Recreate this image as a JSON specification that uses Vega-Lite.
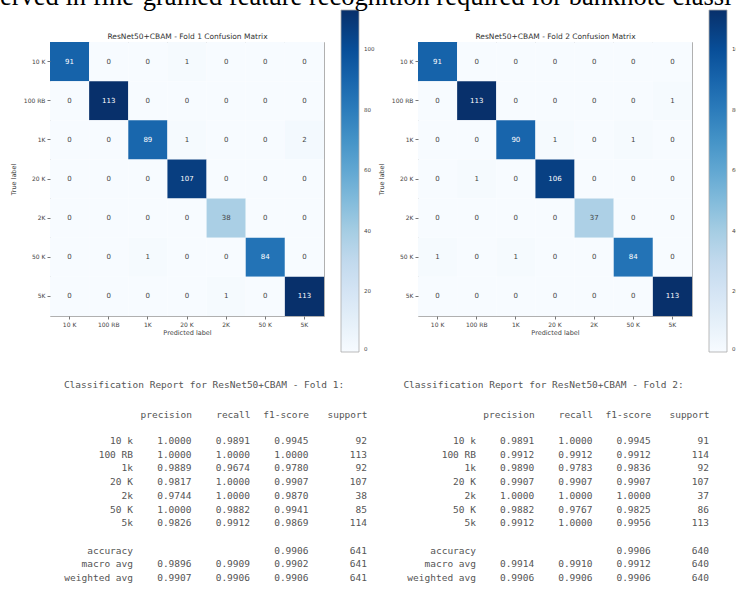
{
  "$schema": "https://vega.github.io/schema/vega-lite/v6.json",
  "autosize": {"type": "pad"},
  "padding": {"left": 0, "top": -16, "right": 0, "bottom": 0},
  "title": {"text": "erved in fine-grained feature recognition required for banknote classi", "font": "Liberation Serif", "fontSize": 26.5, "fontWeight": "normal", "color": "#000000", "anchor": "start", "frame": "group", "dx": -50, "offset": -22, "baseline": "alphabetic"},
  "datasets": {
    "cm1": [
      {"actual": "10 K", "predicted": "10 K", "count": 91}, {"actual": "10 K", "predicted": "100 RB", "count": 0}, {"actual": "10 K", "predicted": "1K", "count": 0}, {"actual": "10 K", "predicted": "20 K", "count": 1}, {"actual": "10 K", "predicted": "2K", "count": 0}, {"actual": "10 K", "predicted": "50 K", "count": 0}, {"actual": "10 K", "predicted": "5K", "count": 0},
      {"actual": "100 RB", "predicted": "10 K", "count": 0}, {"actual": "100 RB", "predicted": "100 RB", "count": 113}, {"actual": "100 RB", "predicted": "1K", "count": 0}, {"actual": "100 RB", "predicted": "20 K", "count": 0}, {"actual": "100 RB", "predicted": "2K", "count": 0}, {"actual": "100 RB", "predicted": "50 K", "count": 0}, {"actual": "100 RB", "predicted": "5K", "count": 0},
      {"actual": "1K", "predicted": "10 K", "count": 0}, {"actual": "1K", "predicted": "100 RB", "count": 0}, {"actual": "1K", "predicted": "1K", "count": 89}, {"actual": "1K", "predicted": "20 K", "count": 1}, {"actual": "1K", "predicted": "2K", "count": 0}, {"actual": "1K", "predicted": "50 K", "count": 0}, {"actual": "1K", "predicted": "5K", "count": 2},
      {"actual": "20 K", "predicted": "10 K", "count": 0}, {"actual": "20 K", "predicted": "100 RB", "count": 0}, {"actual": "20 K", "predicted": "1K", "count": 0}, {"actual": "20 K", "predicted": "20 K", "count": 107}, {"actual": "20 K", "predicted": "2K", "count": 0}, {"actual": "20 K", "predicted": "50 K", "count": 0}, {"actual": "20 K", "predicted": "5K", "count": 0},
      {"actual": "2K", "predicted": "10 K", "count": 0}, {"actual": "2K", "predicted": "100 RB", "count": 0}, {"actual": "2K", "predicted": "1K", "count": 0}, {"actual": "2K", "predicted": "20 K", "count": 0}, {"actual": "2K", "predicted": "2K", "count": 38}, {"actual": "2K", "predicted": "50 K", "count": 0}, {"actual": "2K", "predicted": "5K", "count": 0},
      {"actual": "50 K", "predicted": "10 K", "count": 0}, {"actual": "50 K", "predicted": "100 RB", "count": 0}, {"actual": "50 K", "predicted": "1K", "count": 1}, {"actual": "50 K", "predicted": "20 K", "count": 0}, {"actual": "50 K", "predicted": "2K", "count": 0}, {"actual": "50 K", "predicted": "50 K", "count": 84}, {"actual": "50 K", "predicted": "5K", "count": 0},
      {"actual": "5K", "predicted": "10 K", "count": 0}, {"actual": "5K", "predicted": "100 RB", "count": 0}, {"actual": "5K", "predicted": "1K", "count": 0}, {"actual": "5K", "predicted": "20 K", "count": 0}, {"actual": "5K", "predicted": "2K", "count": 1}, {"actual": "5K", "predicted": "50 K", "count": 0}, {"actual": "5K", "predicted": "5K", "count": 113}
    ],
    "cm2": [
      {"actual": "10 K", "predicted": "10 K", "count": 91}, {"actual": "10 K", "predicted": "100 RB", "count": 0}, {"actual": "10 K", "predicted": "1K", "count": 0}, {"actual": "10 K", "predicted": "20 K", "count": 0}, {"actual": "10 K", "predicted": "2K", "count": 0}, {"actual": "10 K", "predicted": "50 K", "count": 0}, {"actual": "10 K", "predicted": "5K", "count": 0},
      {"actual": "100 RB", "predicted": "10 K", "count": 0}, {"actual": "100 RB", "predicted": "100 RB", "count": 113}, {"actual": "100 RB", "predicted": "1K", "count": 0}, {"actual": "100 RB", "predicted": "20 K", "count": 0}, {"actual": "100 RB", "predicted": "2K", "count": 0}, {"actual": "100 RB", "predicted": "50 K", "count": 0}, {"actual": "100 RB", "predicted": "5K", "count": 1},
      {"actual": "1K", "predicted": "10 K", "count": 0}, {"actual": "1K", "predicted": "100 RB", "count": 0}, {"actual": "1K", "predicted": "1K", "count": 90}, {"actual": "1K", "predicted": "20 K", "count": 1}, {"actual": "1K", "predicted": "2K", "count": 0}, {"actual": "1K", "predicted": "50 K", "count": 1}, {"actual": "1K", "predicted": "5K", "count": 0},
      {"actual": "20 K", "predicted": "10 K", "count": 0}, {"actual": "20 K", "predicted": "100 RB", "count": 1}, {"actual": "20 K", "predicted": "1K", "count": 0}, {"actual": "20 K", "predicted": "20 K", "count": 106}, {"actual": "20 K", "predicted": "2K", "count": 0}, {"actual": "20 K", "predicted": "50 K", "count": 0}, {"actual": "20 K", "predicted": "5K", "count": 0},
      {"actual": "2K", "predicted": "10 K", "count": 0}, {"actual": "2K", "predicted": "100 RB", "count": 0}, {"actual": "2K", "predicted": "1K", "count": 0}, {"actual": "2K", "predicted": "20 K", "count": 0}, {"actual": "2K", "predicted": "2K", "count": 37}, {"actual": "2K", "predicted": "50 K", "count": 0}, {"actual": "2K", "predicted": "5K", "count": 0},
      {"actual": "50 K", "predicted": "10 K", "count": 1}, {"actual": "50 K", "predicted": "100 RB", "count": 0}, {"actual": "50 K", "predicted": "1K", "count": 1}, {"actual": "50 K", "predicted": "20 K", "count": 0}, {"actual": "50 K", "predicted": "2K", "count": 0}, {"actual": "50 K", "predicted": "50 K", "count": 84}, {"actual": "50 K", "predicted": "5K", "count": 0},
      {"actual": "5K", "predicted": "10 K", "count": 0}, {"actual": "5K", "predicted": "100 RB", "count": 0}, {"actual": "5K", "predicted": "1K", "count": 0}, {"actual": "5K", "predicted": "20 K", "count": 0}, {"actual": "5K", "predicted": "2K", "count": 0}, {"actual": "5K", "predicted": "50 K", "count": 0}, {"actual": "5K", "predicted": "5K", "count": 113}
    ],
    "rep1": [
      {"label": "10 k", "precision": "1.0000", "recall": "0.9891", "f1-score": "0.9945", "support": "92"},
      {"label": "100 RB", "precision": "1.0000", "recall": "1.0000", "f1-score": "1.0000", "support": "113"},
      {"label": "1k", "precision": "0.9889", "recall": "0.9674", "f1-score": "0.9780", "support": "92"},
      {"label": "20 K", "precision": "0.9817", "recall": "1.0000", "f1-score": "0.9907", "support": "107"},
      {"label": "2k", "precision": "0.9744", "recall": "1.0000", "f1-score": "0.9870", "support": "38"},
      {"label": "50 K", "precision": "1.0000", "recall": "0.9882", "f1-score": "0.9941", "support": "85"},
      {"label": "5k", "precision": "0.9826", "recall": "0.9912", "f1-score": "0.9869", "support": "114"},
      {"label": "accuracy", "precision": "", "recall": "", "f1-score": "0.9906", "support": "641"},
      {"label": "macro avg", "precision": "0.9896", "recall": "0.9909", "f1-score": "0.9902", "support": "641"},
      {"label": "weighted avg", "precision": "0.9907", "recall": "0.9906", "f1-score": "0.9906", "support": "641"}
    ],
    "rep2": [
      {"label": "10 k", "precision": "0.9891", "recall": "1.0000", "f1-score": "0.9945", "support": "91"},
      {"label": "100 RB", "precision": "0.9912", "recall": "0.9912", "f1-score": "0.9912", "support": "114"},
      {"label": "1k", "precision": "0.9890", "recall": "0.9783", "f1-score": "0.9836", "support": "92"},
      {"label": "20 K", "precision": "0.9907", "recall": "0.9907", "f1-score": "0.9907", "support": "107"},
      {"label": "2k", "precision": "1.0000", "recall": "1.0000", "f1-score": "1.0000", "support": "37"},
      {"label": "50 K", "precision": "0.9882", "recall": "0.9767", "f1-score": "0.9825", "support": "86"},
      {"label": "5k", "precision": "0.9912", "recall": "1.0000", "f1-score": "0.9956", "support": "113"},
      {"label": "accuracy", "precision": "", "recall": "", "f1-score": "0.9906", "support": "640"},
      {"label": "macro avg", "precision": "0.9914", "recall": "0.9910", "f1-score": "0.9912", "support": "640"},
      {"label": "weighted avg", "precision": "0.9906", "recall": "0.9906", "f1-score": "0.9906", "support": "640"}
    ]
  },
  "columns": 2,
  "concat": [
    {
      "width": 274, "height": 274,
      "data": {"name": "cm1"},
      "encoding": {
        "y": {"field": "actual", "type": "nominal", "scale": {"domain": ["10 K", "100 RB", "1K", "20 K", "2K", "50 K", "5K"], "paddingInner": 0, "paddingOuter": 0}, "axis": {"title": "True label", "titlePadding": 7}}
      },
      "layer": [
        {
          "mark": {"type": "rect"},
          "encoding": {
            "x": {"field": "predicted", "type": "nominal", "scale": {"domain": ["10 K", "100 RB", "1K", "20 K", "2K", "50 K", "5K"], "paddingInner": 0, "paddingOuter": 0}, "axis": {"orient": "bottom", "title": "Predicted label", "titlePadding": 2}},
            "color": {"field": "count", "type": "quantitative", "scale": {"domain": [0, 113], "range": ["#f7fbff", "#deebf7", "#c6dbef", "#9ecae1", "#6baed6", "#4292c6", "#2171b5", "#08519c", "#08306b"], "interpolate": "rgb"},
              "legend": {"orient": "none", "legendX": 291, "legendY": -32, "direction": "vertical", "gradientLength": 342, "gradientThickness": 18, "title": null, "values": [0, 20, 40, 60, 80, 100], "labelFontSize": 5.5, "labelColor": "#444444", "gradientStrokeColor": "#aaaaaa", "gradientStrokeWidth": 0.8, "padding": 0, "labelOffset": 5, "labelOverlap": false, "labelBaseline": "middle"}}
          }
        },
        {
          "mark": {"type": "text", "fontSize": 7, "font": "DejaVu Sans"},
          "encoding": {
            "x": {"field": "predicted", "type": "nominal", "scale": {"domain": ["10 K", "100 RB", "1K", "20 K", "2K", "50 K", "5K"], "paddingInner": 0, "paddingOuter": 0}, "axis": {"orient": "top", "labels": false, "ticks": false, "domain": false, "title": "ResNet50+CBAM - Fold 1 Confusion Matrix", "titleFontSize": 7.5, "titleColor": "#333333", "titlePadding": 2}},
            "text": {"field": "count", "type": "quantitative"},
            "color": {"condition": {"test": "datum.count > 56.5", "value": "#ffffff"}, "value": "#444444"}
          }
        }
      ],
      "resolve": {"axis": {"x": "independent"}}
    },
    {
      "width": 274, "height": 274,
      "data": {"name": "cm2"},
      "encoding": {
        "y": {"field": "actual", "type": "nominal", "scale": {"domain": ["10 K", "100 RB", "1K", "20 K", "2K", "50 K", "5K"], "paddingInner": 0, "paddingOuter": 0}, "axis": {"title": "True label", "titlePadding": 7}}
      },
      "layer": [
        {
          "mark": {"type": "rect"},
          "encoding": {
            "x": {"field": "predicted", "type": "nominal", "scale": {"domain": ["10 K", "100 RB", "1K", "20 K", "2K", "50 K", "5K"], "paddingInner": 0, "paddingOuter": 0}, "axis": {"orient": "bottom", "title": "Predicted label", "titlePadding": 2}},
            "color": {"field": "count", "type": "quantitative", "scale": {"domain": [0, 113], "range": ["#f7fbff", "#deebf7", "#c6dbef", "#9ecae1", "#6baed6", "#4292c6", "#2171b5", "#08519c", "#08306b"], "interpolate": "rgb"},
              "legend": {"orient": "none", "legendX": 291, "legendY": -32, "direction": "vertical", "gradientLength": 342, "gradientThickness": 18, "title": null, "values": [0, 20, 40, 60, 80, 100], "labelFontSize": 5.5, "labelColor": "#444444", "gradientStrokeColor": "#aaaaaa", "gradientStrokeWidth": 0.8, "padding": 0, "labelOffset": 5, "labelOverlap": false, "labelBaseline": "middle"}}
          }
        },
        {
          "mark": {"type": "text", "fontSize": 7, "font": "DejaVu Sans"},
          "encoding": {
            "x": {"field": "predicted", "type": "nominal", "scale": {"domain": ["10 K", "100 RB", "1K", "20 K", "2K", "50 K", "5K"], "paddingInner": 0, "paddingOuter": 0}, "axis": {"orient": "top", "labels": false, "ticks": false, "domain": false, "title": "ResNet50+CBAM - Fold 2 Confusion Matrix", "titleFontSize": 7.5, "titleColor": "#333333", "titlePadding": 2}},
            "text": {"field": "count", "type": "quantitative"},
            "color": {"condition": {"test": "datum.count > 56.5", "value": "#ffffff"}, "value": "#444444"}
          }
        }
      ],
      "resolve": {"axis": {"x": "independent"}}
    },
    {
      "width": 317, "height": 137,
      "view": {"stroke": null},
      "data": {"name": "rep1"},
      "transform": [{"fold": ["label", "precision", "recall", "f1-score", "support"], "as": ["column", "value"]}],
      "title": {"text": "Classification Report for ResNet50+CBAM - Fold 1:", "font": "DejaVu Sans Mono", "fontSize": 9.5, "fontWeight": "normal", "color": "#555555", "anchor": "middle", "dx": -4.5, "offset": 12, "baseline": "alphabetic"},
      "mark": {"type": "text", "align": "right", "baseline": "middle", "font": "DejaVu Sans Mono", "fontSize": 9.5, "color": "#555555"},
      "encoding": {
        "x": {"field": "column", "type": "nominal", "scale": {"type": "point", "domain": ["label", "precision", "recall", "f1-score", "support"], "padding": 0.7094, "align": 1},
          "axis": {"orient": "top", "title": null, "ticks": false, "tickSize": 0, "labelPadding": 27, "labelAlign": "right", "labelBaseline": "middle", "labelFont": "DejaVu Sans Mono", "labelFontSize": 9.5, "labelColor": "#555555", "labelExpr": "datum.value == 'label' ? '' : datum.value", "labelOverlap": false}},
        "y": {"field": "label", "type": "nominal", "scale": {"type": "point", "domain": ["10 k", "100 RB", "1k", "20 K", "2k", "50 K", "5k", " ", "accuracy", "macro avg", "weighted avg"], "padding": 0}, "axis": null},
        "text": {"field": "value", "type": "nominal"}
      }
    },
    {
      "width": 291, "height": 137,
      "view": {"stroke": null},
      "data": {"name": "rep2"},
      "transform": [{"fold": ["label", "precision", "recall", "f1-score", "support"], "as": ["column", "value"]}],
      "title": {"text": "Classification Report for ResNet50+CBAM - Fold 2:", "font": "DejaVu Sans Mono", "fontSize": 9.5, "fontWeight": "normal", "color": "#555555", "anchor": "middle", "dx": -20, "offset": 12, "baseline": "alphabetic"},
      "mark": {"type": "text", "align": "right", "baseline": "middle", "font": "DejaVu Sans Mono", "fontSize": 9.5, "color": "#555555"},
      "encoding": {
        "x": {"field": "column", "type": "nominal", "scale": {"type": "point", "domain": ["label", "precision", "recall", "f1-score", "support"], "padding": 0.4979, "align": 1},
          "axis": {"orient": "top", "title": null, "ticks": false, "tickSize": 0, "labelPadding": 27, "labelAlign": "right", "labelBaseline": "middle", "labelFont": "DejaVu Sans Mono", "labelFontSize": 9.5, "labelColor": "#555555", "labelExpr": "datum.value == 'label' ? '' : datum.value", "labelOverlap": false}},
        "y": {"field": "label", "type": "nominal", "scale": {"type": "point", "domain": ["10 k", "100 RB", "1k", "20 K", "2k", "50 K", "5k", " ", "accuracy", "macro avg", "weighted avg"], "padding": 0}, "axis": null},
        "text": {"field": "value", "type": "nominal"}
      }
    }
  ],
  "spacing": {"row": 125, "column": 51},
  "bounds": "flush",
  "resolve": {"scale": {"color": "independent"}, "legend": {"color": "independent"}},
  "config": {
    "view": {"stroke": "#b0b0b0", "strokeWidth": 1},
    "axis": {"labelFont": "DejaVu Sans", "titleFont": "DejaVu Sans", "labelFontSize": 6, "titleFontSize": 6.5, "titleFontWeight": "normal", "labelColor": "#444444", "titleColor": "#444444", "tickColor": "#777777", "tickSize": 3, "labelPadding": 2, "grid": false, "domain": false, "labelAngle": 0},
    "legend": {"gradientVerticalMaxLength": 400, "labelFont": "DejaVu Sans"}
  }
}
